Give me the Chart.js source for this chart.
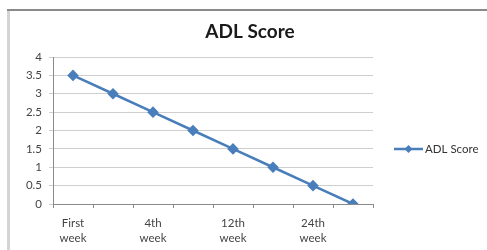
<!DOCTYPE html>
<html>
<head>
<meta charset="utf-8">
<script src="https://cdn.jsdelivr.net/npm/chart.js@4"></script>
<style>
  html, body { margin: 0; padding: 0; background: #fff; }
  #wrap { position: absolute; left: 0; top: 0; width: 487px; height: 250px; }
</style>
</head>
<body>
<div id="wrap"><canvas id="adl"></canvas></div>
<script>
// data (only every other category label is printed)
const weeks = [['First', 'week'], '', ['4th', 'week'], '', ['12th', 'week'], '', ['24th', 'week'], ''];
const adlScore = [3.5, 3, 2.5, 2, 1.5, 1, 0.5, 0];
const seriesName = 'ADL Score';
const chartTitle = 'ADL Score';

const blue = '#4a7ebb';
const font = 'Lato, "Open Sans", sans-serif';

// frame, title and legend the way the old office chart has them
const decor = {
  id: 'decor',
  beforeDraw(chart) {
    const c = chart.ctx;
    c.save();
    c.fillStyle = '#fff';
    c.fillRect(0, 0, chart.width, chart.height);
    c.fillStyle = '#d4d4d4';
    c.fillRect(7, 9, 3, chart.height - 9);
    c.fillStyle = '#8a8a8a';
    c.fillRect(7, 9, chart.width - 7, 2);
    c.restore();
  },
  afterDraw(chart) {
    const c = chart.ctx;
    c.save();
    c.fillStyle = '#1a1a1a';
    c.font = 'bold 19px ' + font;
    c.textAlign = 'center';
    c.textBaseline = 'middle';
    c.fillText(chartTitle, 250, 32);

    const ly = 149, lx = 394;
    c.strokeStyle = blue;
    c.lineWidth = 2.5;
    c.beginPath();
    c.moveTo(lx, ly);
    c.lineTo(lx + 29, ly);
    c.stroke();
    c.fillStyle = blue;
    c.beginPath();
    c.moveTo(lx + 14.5, ly - 4);
    c.lineTo(lx + 18.5, ly);
    c.lineTo(lx + 14.5, ly + 4);
    c.lineTo(lx + 10.5, ly);
    c.closePath();
    c.fill();
    c.fillStyle = '#333';
    c.font = '11.5px ' + font;
    c.textAlign = 'left';
    c.fillText(seriesName, lx + 31, ly);
    c.restore();
  }
};

new Chart(document.getElementById('adl'), {
  type: 'line',
  data: {
    labels: weeks,
    datasets: [{
      label: seriesName,
      data: adlScore,
      borderColor: blue,
      backgroundColor: blue,
      borderWidth: 2.5,
      pointStyle: 'rectRot',
      pointRadius: 4,
      pointHoverRadius: 4,
      tension: 0
    }]
  },
  options: {
    responsive: true,
    maintainAspectRatio: false,
    animation: false,
    layout: { padding: { left: 0, top: 57, right: 114, bottom: 0 } },
    plugins: {
      legend: { display: false },
      title: { display: false },
      tooltip: { enabled: false }
    },
    scales: {
      x: {
        offset: true,
        afterFit(scale) { scale.height = 46; },
        grid: { offset: true, drawOnChartArea: false, drawTicks: true, tickLength: 4, color: '#8a8a8a' },
        border: { display: true, color: '#8a8a8a' },
        ticks: {
          autoSkip: false, maxRotation: 0, padding: 8,
          color: '#444', font: { family: font, size: 11.5, lineHeight: 1.3 }
        }
      },
      y: {
        min: 0, max: 4,
        afterFit(scale) { scale.width = 53; },
        grid: { color: '#cfcfcf', tickLength: 4, drawTicks: true },
        border: { display: true, color: '#8a8a8a' },
        ticks: {
          stepSize: 0.5, padding: 7,
          callback: (v) => String(v),
          color: '#444', font: { family: font, size: 11.5 }
        }
      }
    }
  },
  plugins: [decor]
});
</script>
</body>
</html>
